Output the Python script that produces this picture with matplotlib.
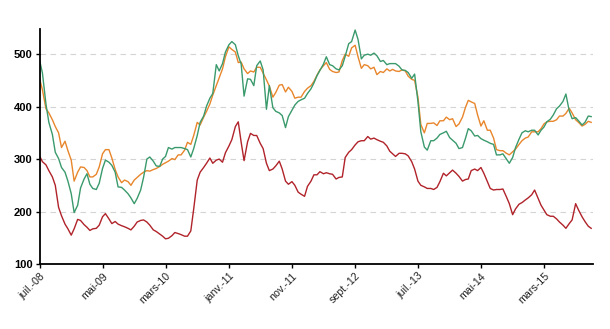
import matplotlib
matplotlib.use('Agg')
import matplotlib.pyplot as plt
import pandas as pd

plt.rcParams['font.family'] = ['Liberation Sans', 'DejaVu Sans']

dates = pd.date_range('2008-07-01', periods=176, freq='SMS')

green = [489, 464, 405, 370, 347, 313, 301, 284, 275, 258,
         234, 198, 212, 245, 262, 272, 252, 244, 242, 254,
         282, 298, 294, 288, 275, 247, 246, 241, 234, 226,
         215, 225, 241, 265, 300, 304, 296, 287, 286, 300,
         305, 322, 319, 322, 322, 322, 320, 318, 304, 320,
         345, 370, 382, 401, 416, 425, 480, 468, 482, 504,
         518, 524, 518, 497, 481, 420, 453, 452, 440, 478,
         487, 470, 395, 440, 398, 391, 388, 383, 360, 381,
         393, 403, 410, 413, 416, 425, 434, 445, 459, 469,
         481, 495, 480, 478, 472, 470, 478, 496, 520, 524,
         546, 528, 491, 498, 500, 498, 502, 497, 486, 488,
         480, 482, 482, 482, 477, 470, 469, 465, 454, 462,
         410, 352, 323, 317, 335, 335, 340, 347, 350, 353,
         341, 336, 330, 320, 322, 339, 358, 354, 344, 345,
         339, 336, 333, 330, 328, 308, 308, 310, 300, 292,
         303, 322, 338, 350, 354, 352, 355, 355, 346, 355,
         361, 371, 376, 384, 396, 401, 410, 424, 392, 377,
         379, 373, 365, 370, 382, 381]

orange = [454, 432, 396, 388, 375, 362, 350, 322, 334, 316,
          298, 258, 275, 285, 284, 278, 266, 266, 271, 285,
          310, 318, 318, 302, 280, 266, 255, 260, 257, 250,
          260, 265, 271, 275, 278, 277, 280, 282, 286, 290,
          293, 296, 301, 299, 308, 308, 317, 332, 328, 345,
          370, 365, 380, 391, 405, 422, 440, 455, 472, 495,
          514, 509, 504, 484, 485, 472, 463, 468, 466, 475,
          475, 464, 451, 439, 418, 427, 441, 442, 428, 437,
          429, 416, 418, 418, 429, 435, 440, 448, 460, 470,
          478, 484, 471, 467, 465, 466, 488, 500, 496, 512,
          517, 495, 473, 480, 478, 472, 475, 461, 467, 465,
          472, 468, 471, 468, 467, 470, 468, 458, 452, 450,
          418, 366, 350, 368, 368, 369, 364, 373, 373, 380,
          375, 377, 362, 367, 380, 398, 412, 409, 406, 384,
          363, 373, 355, 355, 340, 318, 316, 316, 311, 308,
          314, 319, 328, 335, 340, 342, 352, 352, 352, 358,
          367, 371, 372, 372, 375, 382, 382, 387, 397, 388,
          375, 370, 363, 366, 372, 370]

red = [306, 295, 289, 278, 266, 250, 208, 192, 176, 167,
       155, 167, 185, 183, 175, 170, 164, 167, 168, 174,
       190, 196, 186, 177, 181, 176, 173, 171, 168, 165,
       172, 180, 183, 184, 180, 174, 165, 162, 157, 153,
       148, 149, 154, 160, 158, 156, 153, 153, 163, 205,
       260, 275, 284, 292, 302, 292, 298, 300, 294, 312,
       325, 337, 362, 371, 332, 297, 333, 349, 345, 345,
       330, 320, 292, 278, 281, 287, 296, 281, 258, 252,
       257, 250, 237, 233, 229, 248, 258, 270, 270, 276,
       272, 274, 272, 271, 262, 265, 266, 303, 313, 318,
       327, 333, 335, 335, 343, 338, 340, 337, 334, 332,
       325, 315, 310, 305, 311, 311, 310, 306, 295, 281,
       258, 250, 247, 244, 244, 242, 246, 257, 273, 268,
       274, 279, 273, 267, 258, 261, 262, 278, 281, 278,
       284, 273, 257, 244, 241, 242, 242, 243, 228, 215,
       194, 205, 214, 217, 222, 226, 232, 241, 225, 212,
       203, 194, 191, 191, 186, 180, 174, 168, 177, 184,
       215, 203, 190, 181, 172, 168]

tick_dates = pd.to_datetime(['2008-07-01', '2009-05-01', '2010-03-01', '2011-01-01',
                             '2011-11-01', '2012-09-01', '2013-07-01', '2014-05-01',
                             '2015-03-01'])
tick_labels = ['juil.-08', 'mai-09', 'mars-10', 'janv.-11', 'nov.-11',
               'sept.-12', 'juil.-13', 'mai-14', 'mars-15']
y_ticks = [100, 200, 300, 400, 500]

fig = plt.figure(figsize=(6.1, 3.29), dpi=100)
ax = fig.add_axes([0.0648, 0.1976, 0.9074, 0.7143])

ax.plot(dates, red, color='#b0232a', lw=1.0)
ax.plot(dates, orange, color='#e8862c', lw=1.0)
ax.plot(dates, green, color='#3a9a6c', lw=1.0)

ax.set_ylim(100, 548)
ax.set_xlim(pd.Timestamp('2008-07-01'), pd.Timestamp('2015-10-24'))
ax.set_yticks(y_ticks)
ax.set_yticklabels([str(v) for v in y_ticks], fontsize=8, fontweight='bold')
ax.set_xticks(tick_dates)
ax.set_xticklabels(tick_labels, rotation=45, ha='right', rotation_mode='anchor',
                   fontsize=7.7, color='#222222')

for v in y_ticks[1:]:
    ax.axhline(v, color='#d4d4d4', lw=0.8, ls=(0, (5, 4)), zorder=0)

for s in ['top', 'right']:
    ax.spines[s].set_visible(False)
ax.spines['left'].set_linewidth(1.3)
ax.spines['bottom'].set_linewidth(1.3)
ax.tick_params(axis='both', length=3, width=1, direction='out', pad=2)

fig.savefig('out.png', dpi=100)
